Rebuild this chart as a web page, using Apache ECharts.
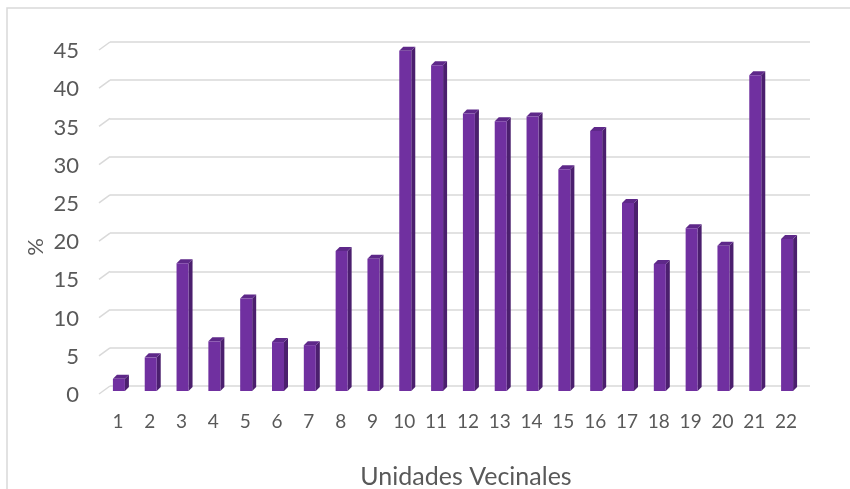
<!DOCTYPE html>
<html>
<head>
<meta charset="utf-8">
<script src="https://cdn.jsdelivr.net/npm/echarts@6/dist/echarts.min.js"></script>
<style>
  html, body { margin: 0; padding: 0; background: #fff; }
  #chart { width: 850px; height: 489px; }
</style>
</head>
<body>
<div id="chart"></div>
<script>
// categorías (Unidades Vecinales) y porcentajes
const categories = ['1', '2', '3', '4', '5', '6', '7', '8', '9', '10', '11',
  '12', '13', '14', '15', '16', '17', '18', '19', '20', '21', '22'];
const values = [1.6, 4.4, 16.7, 6.5, 12.1, 6.4, 6.0, 18.3, 17.3, 44.5, 42.6,
  36.3, 35.3, 35.9, 29.0, 34.0, 24.6, 16.6, 21.3, 19.0, 41.3, 19.9];
const yTicks = [0, 5, 10, 15, 20, 25, 30, 35, 40, 45];

const FONT = 'Lato, "Open Sans", sans-serif';
const GRAY = '#595959';

// desplazamiento del plano frontal respecto a la pared del fondo (efecto 3D)
const DX = -7;
const DY = 5;
const DEPTH = 4;

function renderBar(params, api) {
  const idx = api.value(0);
  const val = api.value(1);
  const top = api.coord([idx, val]);
  const base = api.coord([idx, 0]);
  const w = 12;
  const x = top[0] + DX - w / 2;
  const y1 = top[1] + DY;
  const y0 = base[1] + DY;
  return {
    type: 'group',
    children: [
      {
        type: 'polygon',
        shape: { points: [[x + w, y1], [x + w + DEPTH, y1 - DEPTH], [x + w + DEPTH, y0 - DEPTH], [x + w, y0]] },
        style: { fill: '#4B1F6E' }
      },
      {
        type: 'polygon',
        shape: { points: [[x, y1], [x + DEPTH, y1 - DEPTH], [x + w + DEPTH, y1 - DEPTH], [x + w, y1]] },
        style: { fill: '#5E2889' }
      },
      {
        type: 'rect',
        shape: { x: x, y: y1, width: w, height: y0 - y1 },
        style: { fill: '#7030A0' }
      }
    ]
  };
}

// pequeñas diagonales del "piso" al inicio de cada línea de la cuadrícula
function renderFloorTick(params, api) {
  const p = api.coord([0, api.value(1)]);
  const x0 = params.coordSys.x;
  return {
    type: 'line',
    shape: { x1: x0 - 11, y1: p[1] + 8, x2: x0, y2: p[1] },
    style: { stroke: '#D9D9D9', lineWidth: 1.5 }
  };
}

const chart = echarts.init(document.getElementById('chart'));
chart.setOption({
  animation: false,
  grid: { left: 110, right: 40, top: 42, bottom: 103, outerBoundsMode: 'none' },
  xAxis: {
    type: 'category',
    data: categories,
    axisLine: { show: false },
    axisTick: { show: false },
    axisLabel: {
      color: GRAY, fontFamily: FONT, fontSize: 19, margin: 26,
      padding: [0, 16, 0, 0]
    },
    name: 'Unidades Vecinales',
    nameLocation: 'middle',
    nameGap: 78,
    nameTextStyle: { color: GRAY, fontFamily: FONT, fontSize: 25, padding: [0, 0, 0, 12] }
  },
  yAxis: {
    type: 'value',
    min: 0,
    max: 45,
    interval: 5,
    axisLine: { show: false },
    axisTick: { show: false },
    axisLabel: {
      color: GRAY, fontFamily: FONT, fontSize: 22, margin: 31,
      verticalAlign: 'top', lineHeight: 18
    },
    splitLine: { lineStyle: { color: '#D9D9D9', width: 1.5 } }
  },
  graphic: [
    {
      type: 'rect',
      shape: { x: 7, y: 8, width: 900, height: 600 },
      style: { fill: 'none', stroke: '#D9D9D9', lineWidth: 1.5 },
      silent: true
    },
    {
      type: 'text',
      x: 36,
      y: 247,
      rotation: Math.PI / 2,
      style: {
        text: '%', fill: GRAY, font: '22px ' + FONT,
        align: 'center', verticalAlign: 'middle'
      }
    }
  ],
  series: [
    {
      type: 'custom',
      renderItem: renderFloorTick,
      data: yTicks.map(t => [0, t]),
      silent: true,
      z: 1
    },
    {
      type: 'custom',
      renderItem: renderBar,
      data: values.map((v, i) => [i, v]),
      z: 3
    }
  ]
});
</script>
</body>
</html>
